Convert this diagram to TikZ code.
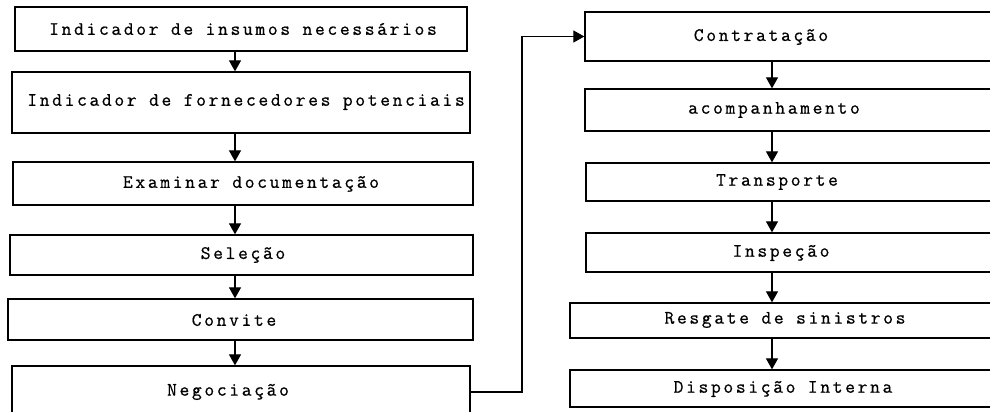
\documentclass[tikz,border=0pt]{standalone}
\usepackage{fontspec}
\newfontfamily\monof{Latin Modern Mono}[LetterSpace=14,FakeBold=0.7]
\usetikzlibrary{arrows.meta}
\begin{document}
\begin{tikzpicture}[x=1pt,y=-1pt,
  box/.style={draw=black,line width=1.3pt,inner sep=0pt,fill=white},
  lbl/.style={inner sep=0pt,font=\monof\fontsize{19}{21}\selectfont},
  arr/.style={draw=black,line width=1.2pt,-{Triangle[width=12pt,length=11pt]}}]
\clip (0,0) rectangle (990,412);
\fill[white] (0,0) rectangle (990,412);
\newcommand{\bx}[5]{\node[box,minimum width=#3-#2,minimum height=#5-#4] (#1) at ({(#2+#3)/2},{(#4+#5)/2}) {};}
% left column
\bx{b1}{15}{467}{7}{51}
\bx{b2}{12}{470}{72}{133}
\bx{b3}{13}{473}{162}{205}
\bx{b4}{10}{473}{235}{275}
\bx{b5}{8}{473}{299}{340}
\bx{b6}{12}{470}{366}{418}
% right column
\bx{c1}{585}{1000}{12}{61}
\bx{c2}{585}{1000}{89}{131}
\bx{c3}{586}{1000}{163}{201}
\bx{c4}{586}{1000}{233}{272}
\bx{c5}{570}{1000}{303}{338}
\bx{c6}{570}{1000}{370}{407}
% labels
\node[lbl] (t1) at (243,29) {Indicador de insumos necessários};
\node[lbl] (t2) at (246,102) {Indicador de fornecedores potenciais};
\node[lbl] (t3) at (251,184) {Examinar documentação};
\node[lbl] (t4) at (243,255) {Seleção};
\node[lbl] (t5) at (234,320) {Convite};
\node[lbl] (t6) at (228,392) {Negociação};
\node[lbl] (s1) at (761,37) {Contratação};
\node[lbl] (s2) at (774,110) {acompanhamento};
\node[lbl] (s3) at (777,182) {Transporte};
\node[lbl] (s4) at (781,253) {Inspeção};
\node[lbl] (s5) at (785,320) {Resgate de sinistros};
\node[lbl] (s6) at (783,389) {Disposição Interna};
% arrows
\coordinate (ax) at (235,0);
\coordinate (rx) at (772,0);
\foreach \a/\b in {b1/b2,b2/b3,b3/b4,b4/b5,b5/b6}
  \draw[arr] (\a.south -| ax) -- (\b.north -| ax);
\foreach \a/\b in {c1/c2,c2/c3,c3/c4,c4/c5,c5/c6}
  \draw[arr] (\a.south -| rx) -- (\b.north -| rx);
\coordinate (elb) at (522,0);
\draw[arr] (b6.east) -- (b6.east -| elb) |- (c1.west);
\end{tikzpicture}
\end{document}
